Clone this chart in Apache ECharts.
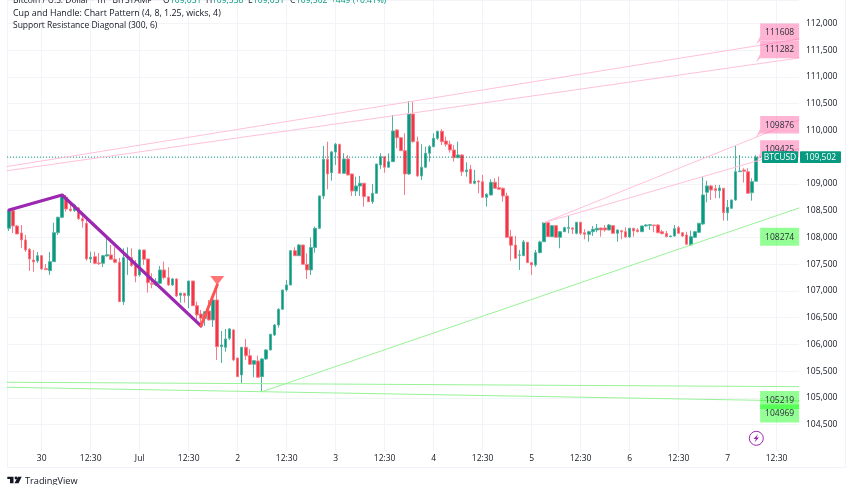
<!DOCTYPE html>
<html><head><meta charset="utf-8">
<style>html,body{margin:0;padding:0;background:#fff}#c{width:852px;height:485px}</style>
<script src="https://cdn.jsdelivr.net/npm/echarts@6/dist/echarts.min.js"></script>
</head><body><div id="c"></div>
<script>
// tick labels every 12 candles, first one at candle 8
const tickLabels=['30','12:30','Jul','12:30','2','12:30','3','12:30','4','12:30','5','12:30','6','12:30','7','12:30'];
// open, close, low, high
const candles=[
[108171,108500,108120,108513],[108500,108214,108083,108513],[108214,108064,108064,108232],[108083,107952,107802,108232],[107952,107765,107728,108045],[107774,107597,107373,107802],[107578,107541,107354,107765],[107559,107658,107522,107728],[107658,107410,107391,107672],[107415,107397,107391,107503],
[107378,107546,107298,107728],[107546,108088,107546,108276],[108088,108376,108045,108388],[108376,108793,108358,108799],[108750,108531,108481,108793],[108531,108500,108481,108668],[108500,108606,108476,108625],[108550,108350,108326,108569],[108350,108307,108183,108419],[108264,107597,107565,108326],
[107597,107629,107522,107733],[107640,107516,107498,107733],[107522,107509,107485,107709],[107516,107658,107447,107672],[107653,107677,107640,107989],[107672,107591,107578,107858],[107591,107535,107516,107815],[107535,106798,106793,107616],[106798,107621,106737,107796],[107616,107625,107298,107815],
[107621,107472,107453,107796],[107472,107279,107161,107578],[107298,107765,107266,107778],[107765,107591,107485,107765],[107597,107154,106967,107597],[107142,107124,107049,107329],[107111,107172,107092,107236],[107142,107391,107129,107466],[107391,107247,107217,107546],[107247,107111,107092,107442],
[107111,107223,107092,107241],[107223,106905,106886,107236],[106918,106955,106780,106967],[106955,106910,106780,106961],[106910,107185,106675,107185],[107185,106723,106718,107185],[106723,106550,106456,106798],[106568,106488,106363,106643],[106488,106611,106344,106624],[106624,106456,106447,106830],
[106456,106830,106325,106924],[106830,105957,105708,107079],[105957,105989,105652,106250],[105945,106101,105863,106288],[106114,106288,106082,106307],[106269,105708,105689,106288],[105745,105396,105390,105745],[105428,105945,105272,105951],[105945,105788,105708,106101],[105788,105628,105615,105914],
[105628,105695,105385,105708],[105689,105385,105381,105788],[105396,105727,105115,105745],[105727,105895,105708,105914],[105895,106189,105889,106194],[106175,106362,106157,106381],[106362,106656,106312,106675],[106656,107017,106649,107017],[107017,107111,106985,107204],[107111,107752,107105,107756],
[107752,107658,107653,107815],[107658,107858,107653,107877],[107858,107497,107494,107864],[107497,107391,107223,107703],[107391,107811,107298,107999],[107811,108171,107714,108201],[108171,108775,108158,108780],[108775,109461,108719,109710],[109461,109186,108900,109790],[109211,109598,109061,109617],
[109598,109742,109355,109766],[109742,109199,109186,109747],[109199,109467,109186,109573],[109467,109168,109158,109542],[109186,108868,108775,109192],[108868,108962,108775,109136],[108962,109012,108775,109149],[109012,108762,108575,109018],[108762,108668,108662,108775],[108668,108825,108625,109000],
[108825,109373,108821,109373],[109355,109510,109280,109573],[109510,109312,109210,109514],[109312,109416,109308,109573],[109416,109990,109411,110290],[110009,109865,109667,110022],[109865,109622,109616,109869],[109622,109186,108793,109947],[109186,110308,109168,110551],[110308,109790,109771,110538],
[109790,109149,109136,109884],[109149,109312,109074,109742],[109312,109573,109293,109697],[109573,109697,109416,109729],[109697,109854,109686,109947],[109854,109985,109822,109990],[109985,109790,109729,110022],[109803,109742,109697,109884],[109742,109635,109585,109809],[109635,109491,109416,109729],
[109491,109542,109480,109790],[109542,109229,109149,109555],[109229,109261,109136,109405],[109274,109012,108999,109355],[109012,109055,108994,109261],[109055,109037,108825,109074],[109042,108750,108747,109168],[108750,108807,108575,108825],[108793,109031,108784,109087],[109031,108919,108915,109106],
[108930,108900,108896,109136],[108919,108775,108668,108930],[108775,108002,107999,108836],[108014,107853,107565,108139],[107858,107610,107606,108027],[107666,107672,107391,107765],[107658,107915,107653,107952],[107909,107528,107522,107915],[107528,107485,107298,107541],[107485,107715,107453,107765],
[107715,107915,107703,107939],[107920,108275,107915,108280],[108275,108014,108008,108280],[108014,108220,108008,108233],[108220,108002,107999,108223],[108002,108107,107797,108111],[108107,108182,108102,108201],[108171,108186,108077,108407],[108176,108152,108064,108195],[108077,108283,108058,108289],
[108283,108077,108045,108289],[108088,108058,107965,108152],[108058,108107,107920,108126],[108107,108152,108027,108214],[108139,108171,108096,108251],[108176,108139,108014,108176],[108176,108139,108107,108232],[108139,108232,108133,108251],[108220,108077,108074,108232],[108077,108139,107920,108148],
[108126,108102,107965,108139],[108107,108008,107995,108190],[108008,108171,107989,108176],[108171,108120,108014,108176],[108139,108107,108096,108171],[108107,108214,108102,108220],[108214,108232,108201,108251],[108227,108238,108139,108251],[108232,108220,108096,108232],[108232,108088,108077,108251],
[108107,108070,108058,108139],[108077,108014,108002,108120],[108014,108027,108002,108032],[108027,108163,108014,108232],[108182,108077,108064,108214],[108088,108027,108008,108102],[108045,107872,107858,108107],[107858,108014,107845,108126],[108002,108107,107989,108120],[108096,108264,108083,108270],
[108251,108793,108232,109136],[108844,108962,108657,109061],[108962,108887,108700,108981],[108912,108874,108732,108981],[108874,108924,108732,108981],[108919,108462,108313,108924],[108462,108563,108313,108700],[108545,108700,108532,108706],[108700,109229,108687,109710],[109229,109242,109224,109542],
[109261,109237,109024,109293],[109229,108825,108821,109293],[108836,109042,108687,109106],[109051,109502,109051,109538]];
const lastPrice=109502;
// drawn lines: [candle index, price]
const pinkLines=[
 [[-0.5,109325],[193.5,111710]],
 [[-0.5,109246],[193.5,111355]],
 [[131,108276],[193.5,110196]],
 [[131,108276],[193.5,109657]]];
const greenLines=[
 [[62,105115],[193.5,108550]],
 [[-0.5,105291],[193.5,105209]],
 [[-0.5,105197],[193.5,104941]]];
const patternLine=[[0,108513],[13,108793],[47,106344]];
const breakoutLine=[[47,106344],[51,107110]];
const breakoutMark=[[51,107195]];
const resistanceTags=[[183,111608],[183,111282],[183,109876],[183,109425]];
const supportTags=[[183,108274],[183,105219],[183,104969]];

const FONT='"Open Sans"';
const FS=8.5, INK='#131722', UP='#089981', DOWN='#f23645';
const N=194;
const categories=[];
for(let i=0;i<N;i++){const k=(i-8)/12;categories.push(i>=8&&Number.isInteger(k)&&tickLabels[k]!==undefined?tickLabels[k]:'');}
const tickX=tickLabels.map((_,k)=>8+12*k);
const lineS=(name,data,color,width,z)=>({name,type:'line',xAxisIndex:1,yAxisIndex:0,data,showSymbol:false,silent:true,z,animation:false,
  lineStyle:{color,width,cap:'round',join:'round'}});

function tag(fill,dir){return function(params,api){
  const p=api.coord([api.value(0),api.value(1)]);
  const up=dir<0;
  const raw=up?[[0,0],[4,-8],[4,-21],[43,-21],[43,-3.6],[4,-3.6]]:[[0,0],[4,5],[4,23],[43,23],[43,5],[4,5]];
  return {type:'group',children:[
   {type:'polygon',shape:{points:raw.map(q=>[p[0]+q[0],p[1]+q[1]])},style:{fill}},
   {type:'text',style:{x:p[0]+23.5,y:p[1]+(up?-12:14.5),text:String(api.value(1)),fill:'#2a2e39',font:FS+'px '+FONT,align:'center',verticalAlign:'middle'}}
  ]};
};}
function lastTag(params,api){
  const p=api.coord([api.value(0),api.value(1)]);
  const y=p[1]-5.8;
  return {type:'group',children:[
   {type:'rect',shape:{x:762,y,width:36,height:11.6,r:1},style:{fill:UP}},
   {type:'text',style:{x:780,y:p[1],text:'BTCUSD',fill:'#fff',font:FS+'px '+FONT,align:'center',verticalAlign:'middle'}},
   {type:'rect',shape:{x:800,y,width:41,height:11.6,r:1},style:{fill:UP}},
   {type:'text',style:{x:820.5,y:p[1],text:api.value(1).toLocaleString('en-US'),fill:'#fff',font:FS+'px '+FONT,align:'center',verticalAlign:'middle'}}
  ]};
}
const headerBits=[
 ['Bitcoin / U.S. Dollar · 1h · BITSTAMP',13,INK],['O',163,INK],['109,051',170,UP],['H',206,INK],['109,538',212,UP],['L',248,INK],['109,051',253,UP],['C',290,INK],['109,502',296,UP],['+449 (+0.41%)',331,UP]];
const text=(t,x,y,fill,size)=>({type:'text',x,y,silent:true,z:20,style:{text:t,fill,font:(size||FS)+'px '+FONT,verticalAlign:'middle'}});

const chart=echarts.init(document.getElementById('c'),null,{renderer:'canvas'});
chart.setOption({
 animation:false,backgroundColor:'#fff',
 grid:{left:7,top:0,width:792,height:451.3,show:false},
 xAxis:[
  {type:'category',data:categories,boundaryGap:true,axisLine:{show:false},axisTick:{show:false},splitLine:{show:false},
   axisLabel:{interval:(i,v)=>v!=='',margin:2.5,color:INK,fontFamily:FONT,fontSize:FS,hideOverlap:false}},
  {type:'value',min:-0.5,max:193.5,show:false}],
 yAxis:{type:'value',position:'right',min:104000,max:112439.5,interval:500,scale:true,
  axisLine:{show:false},axisTick:{show:false},splitLine:{lineStyle:{color:'#f3f4f7',width:1}},
  axisLabel:{margin:7,color:INK,fontFamily:FONT,fontSize:FS,showMinLabel:false,showMaxLabel:false,
   formatter:v=>Number(v).toLocaleString('en-US')}},
 series:[
  {name:'BTCUSD',type:'candlestick',xAxisIndex:0,yAxisIndex:0,data:candles,barWidth:3,z:3,silent:true,
   itemStyle:{color:UP,color0:DOWN,borderColor:'#4fb3a1',borderColor0:'#f87a87',borderWidth:1}},
  Object.assign(lineS('last',[[-0.5,lastPrice],[193.5,lastPrice]],UP,1,4),{
   lineStyle:{color:UP,width:1,type:[1,2]},
   markLine:{silent:true,symbol:'none',z:1,animation:false,label:{show:false},lineStyle:{color:'#f0f3fa',width:1,type:'solid'},
    data:tickX.map(x=>({xAxis:x}))}}),
  ...pinkLines.map((d,i)=>lineS('res'+i,d,'#ffc0da',1,4)),
  ...greenLines.map((d,i)=>lineS('sup'+i,d,'#98f298',1,4)),
  lineS('pattern',patternLine,'#9c27b0',3.2,6),
  lineS('breakout',breakoutLine,'#ff5252',3,6),
  {name:'mark',type:'scatter',xAxisIndex:1,yAxisIndex:0,data:breakoutMark,symbol:'triangle',symbolRotate:180,symbolSize:[14,9],itemStyle:{color:'#ff5252'},z:6,silent:true},
  {name:'resTags',type:'custom',xAxisIndex:1,yAxisIndex:0,data:resistanceTags,renderItem:tag('rgba(255,105,170,0.5)',-1),z:5,silent:true,clip:false},
  {name:'supTags',type:'custom',xAxisIndex:1,yAxisIndex:0,data:supportTags,renderItem:tag('rgba(0,255,0,0.42)',1),z:5,silent:true,clip:false},
  {name:'lastTag',type:'custom',xAxisIndex:1,yAxisIndex:0,data:[[193.5,lastPrice]],renderItem:lastTag,z:7,silent:true,clip:false}
 ],
 graphic:[
  {type:'rect',shape:{x:0,y:447.5,width:800,height:5},style:{fill:'#fff'},z:1,silent:true},
  {type:'line',shape:{x1:7.5,y1:0,x2:7.5,y2:467.5},style:{stroke:'#f0f3fa',lineWidth:1},silent:true,z:1},
  {type:'line',shape:{x1:7,y1:467.5,x2:845.5,y2:467.5},style:{stroke:'#f0f3fa',lineWidth:1},silent:true,z:1},
  {type:'line',shape:{x1:845.5,y1:0,x2:845.5,y2:467.5},style:{stroke:'#f0f3fa',lineWidth:1},silent:true,z:1},
  ...headerBits.map(b=>text(b[0],b[1],1,b[2])),
  text('Cup and Handle: Chart Pattern (4, 8, 1.25, wicks, 4)',13,13.5,INK,8.9),
  text('Support Resistance Diagonal (300, 6)',13,26,INK),
  // TradingView mark
  {type:'polygon',shape:{points:[[7.3,476.7],[13.5,476.7],[13.5,483.3],[10,483.3],[10,479],[7.3,479]]},style:{fill:INK},silent:true,z:20},
  {type:'circle',shape:{cx:16,cy:478,r:1.4},style:{fill:INK},silent:true,z:20},
  {type:'polygon',shape:{points:[[14.5,483.3],[18,476.7],[21.7,476.7],[18.5,483.3]]},style:{fill:INK},silent:true,z:20},
  text('TradingView',25,481,INK,9.2),
  // replay bolt
  {type:'circle',shape:{cx:756.3,cy:438.3,r:7},style:{fill:'#fff',stroke:'#9c27b0',lineWidth:1},silent:true,z:20},
  {type:'polygon',shape:{points:[[758,434],[753.5,439],[756,439],[754.5,442.6],[759,437.6],[756.5,437.6]]},style:{fill:'#9c27b0'},silent:true,z:20}
 ]
});
</script></body></html>
